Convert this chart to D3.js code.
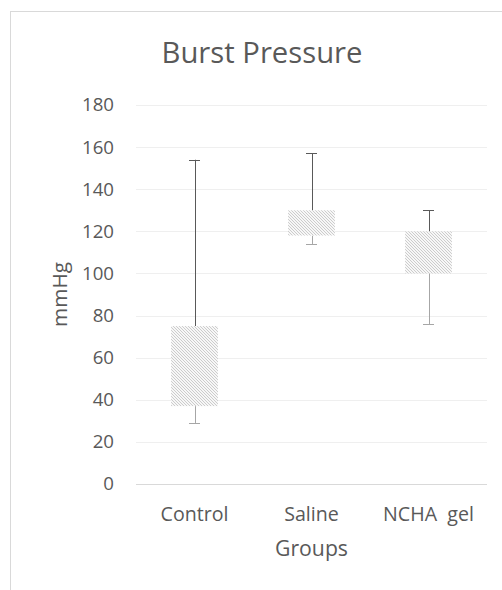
<!DOCTYPE html>
<html><head><meta charset="utf-8">
<script src="https://cdn.jsdelivr.net/npm/d3@7"></script>
<style>body{margin:0;background:#fff}svg{display:block}</style>
</head><body>
<script>
const categories = ["Control", "Saline", "NCHA  gel"];
const whiskerMin = [29, 114, 76];
const boxLow = [37, 118, 100];
const boxHigh = [75, 130, 120];
const whiskerMax = [154, 157, 130];
const yTicks = [0, 20, 40, 60, 80, 100, 120, 140, 160, 180];
const title = "Burst Pressure";
const xTitle = "Groups";
const yTitle = "mmHg";

const W = 502, H = 590;
const font = "'Open Sans', sans-serif";
const svg = d3.select("body").append("svg").attr("width", W).attr("height", H);

function fit(sel, target) {
  const n = sel.node();
  const base = parseFloat(sel.attr("font-size"));
  const w = n.getComputedTextLength();
  if (w > 0) sel.attr("font-size", (base * target / w).toFixed(2));
  return sel;
}

const defs = svg.append("defs");
const pat = defs.append("pattern").attr("id", "hatch").attr("patternUnits", "userSpaceOnUse")
  .attr("width", 3).attr("height", 3);
pat.append("rect").attr("width", 3).attr("height", 3).attr("fill", "#f7f7f7");
pat.append("path").attr("d", "M-1,-1 L4,4 M-1,2 L1,4 M2,-1 L4,1").attr("stroke", "#cccccc").attr("stroke-width", 1);

svg.append("rect").attr("x", 10.5).attr("y", 11.5).attr("width", 520).attr("height", 600)
  .attr("fill", "none").attr("stroke", "#d9d9d9").attr("stroke-width", 1);

const x = d3.scaleBand().domain(categories).range([136, 487]).paddingInner(0).paddingOuter(0);
const y = d3.scaleLinear().domain([0, 180]).range([484, 105]);

// gridlines
svg.append("g").selectAll("line").data(yTicks).join("line")
  .attr("x1", 136).attr("x2", 487)
  .attr("y1", d => Math.round(y(d)) + 0.5).attr("y2", d => Math.round(y(d)) + 0.5)
  .attr("stroke", d => d === 0 ? "#d9d9d9" : "#efefef").attr("stroke-width", 1);

// y axis labels
const yAxis = d3.axisLeft(y).tickValues(yTicks).tickSize(0).tickPadding(0);
const gy = svg.append("g").attr("transform", "translate(114,0)").call(yAxis);
gy.select(".domain").remove();
gy.selectAll("text").attr("font-family", font).attr("font-size", 18).attr("fill", "#595959");
// size tick labels so "180" is ~32px wide
const t180 = gy.selectAll("text").filter(d => d === 180);
fit(t180, 32);
const tickSize = t180.attr("font-size");
gy.selectAll("text").attr("font-size", tickSize);

// x axis labels
const xAxis = d3.axisBottom(x).tickSize(0).tickPadding(0);
const gx = svg.append("g").attr("transform", "translate(0,0)").call(xAxis);
gx.select(".domain").remove();
gx.selectAll("text").attr("font-family", font).attr("font-size", 18).attr("fill", "#595959")
  .attr("dy", null).attr("y", 521).style("white-space", "pre");
const tCtrl = gx.selectAll("text").filter(d => d === "Control");
fit(tCtrl, 68);
gx.selectAll("text").attr("font-size", tCtrl.attr("font-size"));

const bw = x.bandwidth() * 0.4;
const data = categories.map((c, i) => ({c, lo: whiskerMin[i], q1: boxLow[i], q3: boxHigh[i], hi: whiskerMax[i]}));
const cx = d => x(d.c) + x.bandwidth() / 2;

const g = svg.append("g");
// lower whisker
g.selectAll(".lw").data(data).join("line").attr("x1", d => Math.round(cx(d)) + 0.5).attr("x2", d => Math.round(cx(d)) + 0.5)
  .attr("y1", d => y(d.q1)).attr("y2", d => y(d.lo)).attr("stroke", "#a6a6a6").attr("stroke-width", 1);
g.selectAll(".lc").data(data).join("line").attr("x1", d => cx(d) - 5.5).attr("x2", d => cx(d) + 5.5)
  .attr("y1", d => Math.round(y(d.lo)) + 0.5).attr("y2", d => Math.round(y(d.lo)) + 0.5).attr("stroke", "#a6a6a6").attr("stroke-width", 1);
// upper whisker
g.selectAll(".uw").data(data).join("line").attr("x1", d => Math.round(cx(d)) + 0.5).attr("x2", d => Math.round(cx(d)) + 0.5)
  .attr("y1", d => y(d.q3)).attr("y2", d => y(d.hi)).attr("stroke", "#595959").attr("stroke-width", 1);
g.selectAll(".uc").data(data).join("line").attr("x1", d => cx(d) - 5.5).attr("x2", d => cx(d) + 5.5)
  .attr("y1", d => Math.round(y(d.hi)) + 0.5).attr("y2", d => Math.round(y(d.hi)) + 0.5).attr("stroke", "#595959").attr("stroke-width", 1);
// boxes
g.selectAll(".box").data(data).join("rect")
  .attr("x", d => cx(d) - bw / 2).attr("width", bw)
  .attr("y", d => y(d.q3)).attr("height", d => y(d.q1) - y(d.q3))
  .attr("fill", "url(#hatch)");

fit(svg.append("text").attr("x", 262).attr("y", 63).attr("text-anchor", "middle")
  .attr("font-family", font).attr("font-size", 29).attr("fill", "#595959").text(title), 201);
fit(svg.append("text").attr("x", 311.5).attr("y", 556).attr("text-anchor", "middle")
  .attr("font-family", font).attr("font-size", 20).attr("fill", "#595959").text(xTitle), 73);
fit(svg.append("text").attr("transform", "translate(67,294.5) rotate(-90)").attr("text-anchor", "middle")
  .attr("font-family", font).attr("font-size", 20).attr("fill", "#595959").text(yTitle), 65);
</script>
</body></html>
